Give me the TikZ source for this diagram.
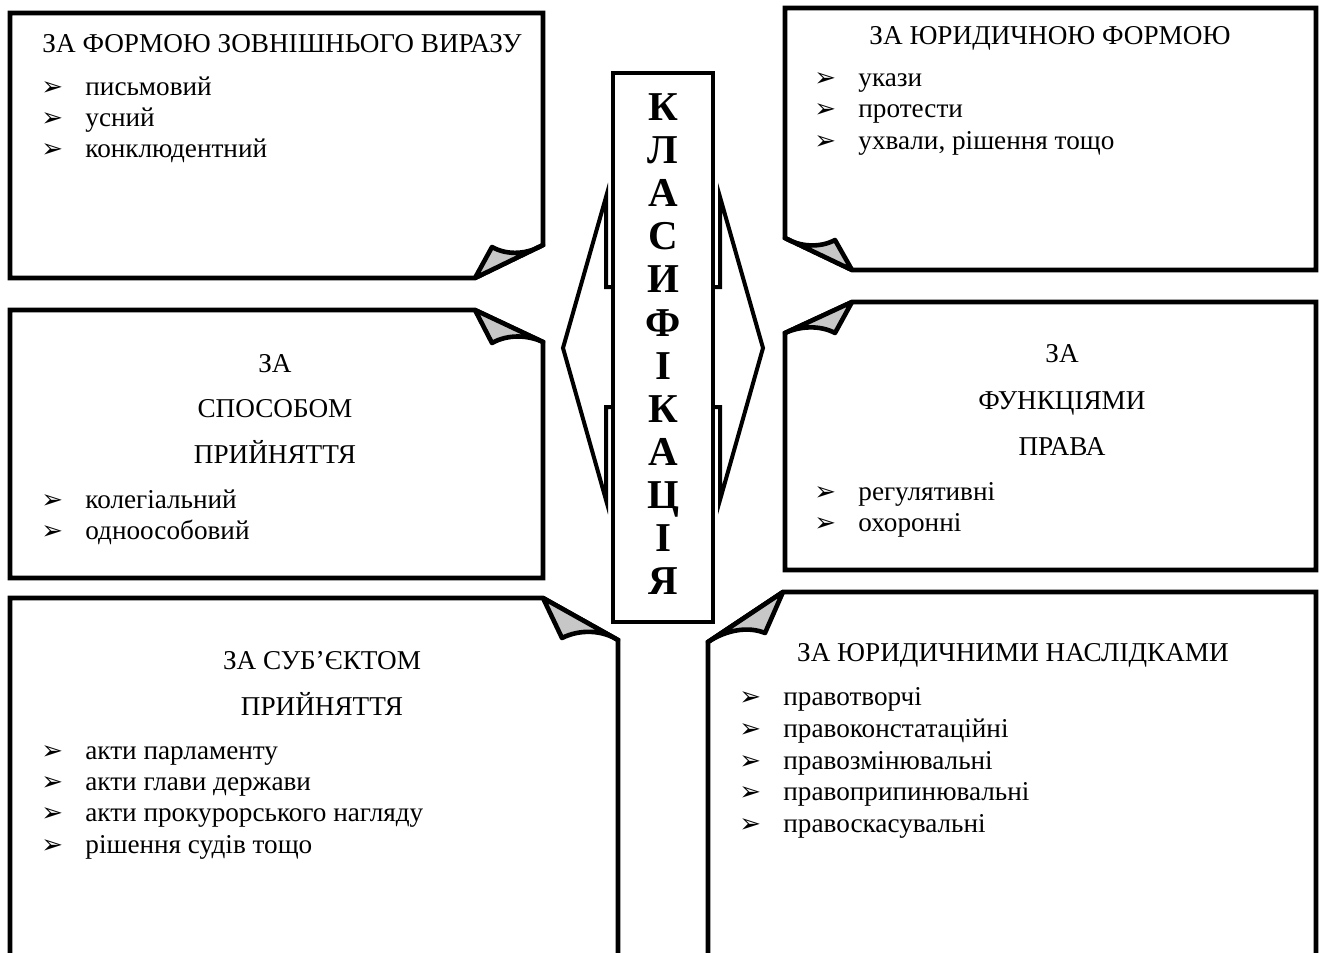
\documentclass[tikz,border=0pt]{standalone}
\usepackage{fontspec}
\setmainfont{Liberation Serif}
\newfontfamily\dingfont{DejaVu Sans}
\newfontfamily\wordfont{Liberation Serif Bold}

\tikzset{
  frame/.style={line width=2.3pt, line join=miter},
  fold/.style={line width=2.3pt, fill=black!22, line join=round},
  dblarrow/.style={line width=2pt, fill=white, line join=miter},
  spine/.style={line width=2.3pt, fill=white},
  head/.style={font=\fontsize{13.6}{15}\selectfont, anchor=base, inner sep=0pt},
  item/.style={font=\fontsize{13.6}{15}\selectfont, anchor=base west, inner sep=0pt},
  bullet/.style={font=\dingfont\fontsize{13}{15}\selectfont, anchor=base west, inner sep=0pt},
  letter/.style={font=\wordfont\fontsize{20.5}{21}\selectfont, anchor=base, inner sep=0pt}
}

% one list line: name, x, y (baseline), text
\newcommand{\entry}[4]{%
  \node[bullet] (#1m) at ({#2-44},#3) {➢};
  \node[item] (#1) at (#2,#3) {#4};}

\begin{document}
\begin{tikzpicture}[x=0.5pt,y=-0.5pt]
      \useasboundingbox (0,0) rectangle (1323,953);

      % centre: double arrow and the word
      \draw[dblarrow] (563,348) -- (606,197) -- (606,287) -- (720,287) -- (720,197)
        -- (763,348) -- (720,500) -- (720,407) -- (606,407) -- (606,500) -- cycle;
      \draw[spine] (613,73) rectangle (713,622);
      \foreach \ch [count=\i from 0] in {К,Л,А,С,И,Ф,І,К,А,Ц,І,Я}
        \node[letter] (l\i) at (663,{120.5+43.1*\i}) {\ch};

      % top left
      \draw[frame] (10,13) -- (543,13) -- (543,245) -- (475,278) -- (10,278) -- cycle;
      \draw[fold] (475,278) -- (492,247) .. controls (508,256) and (528,254) .. (543,245) -- cycle;
      \node[head] (form) at (282,52) {ЗА ФОРМОЮ ЗОВНІШНЬОГО ВИРАЗУ};
      \entry{f1}{85}{95}{письмовий}
      \entry{f2}{85}{126}{усний}
      \entry{f3}{85}{157}{конклюдентний}

      % top right
      \draw[frame] (785,8) -- (1316,8) -- (1316,270) -- (852,270) -- (785,238) -- cycle;
      \draw[fold] (852,270) -- (835,240) .. controls (820,248) and (800,247) .. (785,238) -- cycle;
      \node[head] (legal) at (1050,44) {ЗА ЮРИДИЧНОЮ ФОРМОЮ};
      \entry{j1}{858}{86}{укази}
      \entry{j2}{858}{117}{протести}
      \entry{j3}{858}{149}{ухвали, рішення тощо}

      % middle left
      \draw[frame] (10,310) -- (475,310) -- (543,342) -- (543,578) -- (10,578) -- cycle;
      \draw[fold] (475,310) -- (492,343) .. controls (508,334) and (528,335) .. (543,342) -- cycle;
      \node[head] (way1) at (275,372) {ЗА};
      \node[head] (way2) at (275,417) {СПОСОБОМ};
      \node[head] (way3) at (275,463) {ПРИЙНЯТТЯ};
      \entry{w1}{85}{508}{колегіальний}
      \entry{w2}{85}{539}{одноособовий}

      % middle right
      \draw[frame] (852,302) -- (1316,302) -- (1316,570) -- (785,570) -- (785,333) -- cycle;
      \draw[fold] (852,302) -- (835,333) .. controls (820,325) and (800,326) .. (785,333) -- cycle;
      \node[head] (func1) at (1062,362) {ЗА};
      \node[head] (func2) at (1062,409) {ФУНКЦІЯМИ};
      \node[head] (func3) at (1062,455) {ПРАВА};
      \entry{u1}{858}{500}{регулятивні}
      \entry{u2}{858}{531}{охоронні}

      % bottom left
      \draw[frame] (10,953) -- (10,598) -- (543,598) -- (618,640) -- (618,953);
      \draw[fold] (543,598) -- (562,638) .. controls (580,629) and (602,630) .. (618,640) -- cycle;
      \node[head] (subj1) at (322,669) {ЗА СУБ’ЄКТОМ};
      \node[head] (subj2) at (322,715) {ПРИЙНЯТТЯ};
      \entry{s1}{85}{759}{акти парламенту}
      \entry{s2}{85}{790}{акти глави держави}
      \entry{s3}{85}{821}{акти прокурорського нагляду}
      \entry{s4}{85}{853}{рішення судів тощо}

      % bottom right
      \draw[frame] (708,953) -- (708,642) -- (783,592) -- (1316,592) -- (1316,953);
      \draw[fold] (783,592) -- (765,633) .. controls (748,626) and (726,630) .. (708,642) -- cycle;
      \node[head] (res) at (1013,661) {ЗА ЮРИДИЧНИМИ НАСЛІДКАМИ};
      \entry{r1}{783}{705}{правотворчі}
      \entry{r2}{783}{737}{правоконстатаційні}
      \entry{r3}{783}{769}{правозмінювальні}
      \entry{r4}{783}{800}{правоприпинювальні}
      \entry{r5}{783}{832}{правоскасувальні}
\end{tikzpicture}
\end{document}
